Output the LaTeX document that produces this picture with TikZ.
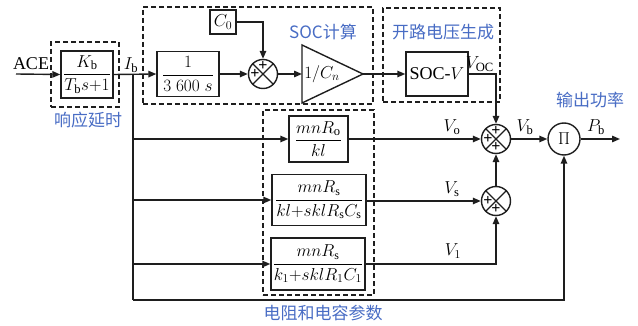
\documentclass[tikz,border=0pt]{standalone}
\usepackage{fontspec}
\setmainfont{Liberation Serif}
\newfontfamily\cjk{Noto Sans CJK SC}
\usetikzlibrary{arrows.meta,calc}
\definecolor{cblue}{RGB}{72,108,196}
\definecolor{ink}{RGB}{30,30,30}
\begin{document}
\begin{tikzpicture}[x=1pt,y=-1pt,
  ln/.style={line width=1.4pt, draw=ink},
  con/.style={ln, -{Triangle[length=8pt,width=6.5pt]}},
  blk/.style={draw=ink, line width=1.4pt, inner sep=0pt, font=\fontsize{18}{20}\selectfont},
  grp/.style={draw=ink, line width=1.4pt, dash pattern=on 5pt off 3pt, inner sep=0pt},
  sumc/.style={draw=ink, circle, minimum size=29pt, inner sep=0pt, line width=1.4pt},
  pls/.style={inner sep=0pt, font=\bfseries\fontsize{16}{16}\selectfont},
  lbl/.style={inner sep=0pt, font=\fontsize{18}{20}\selectfont},
  clbl/.style={inner sep=0pt, text=cblue, font=\cjk\fontsize{17}{19}\selectfont}]
\useasboundingbox (0,0) rectangle (638,326);

% group boxes
\node[grp, minimum width=68pt, minimum height=65pt] (g1) at (85,74.5) {};
\node[grp, minimum width=230pt, minimum height=97pt] (g2) at (258,55.5) {};
\node[grp, minimum width=117pt, minimum height=94pt] (g3) at (441.5,55) {};
\node[grp, minimum width=111pt, minimum height=185pt] (g4) at (318.5,202.5) {};

% group labels
\node[clbl] (l1) at (88,120) {响应延时};
\node[clbl] (l2) at (323,32) {SOC计算};
\node[clbl] (l3) at (443,32) {开路电压生成};
\node[clbl] (l4) at (323,313) {电阻和电容参数};
\node[clbl] (l5) at (590,100) {输出功率};

% blocks
\node[blk, minimum width=52pt, minimum height=47pt] (kb) at (87,74.5) {$\displaystyle\frac{K_{\mathrm{b}}}{T_{\mathrm{b}}s{+}1}$};
\node[blk, minimum width=62pt, minimum height=45pt] (int) at (188,74) {$\displaystyle\frac{1}{3\;600\;s}$};
\node[blk, minimum width=26pt, minimum height=24pt] (c0) at (223,22) {$C_0$};
\node[blk, minimum width=62pt, minimum height=44pt] (socv) at (437,74) {SOC-$V$};
\node[blk, minimum width=59pt, minimum height=46pt] (ro) at (318.5,139) {$\displaystyle\frac{mnR_{\mathrm{o}}}{kl}$};
\node[blk, minimum width=94pt, minimum height=51pt, font=\fontsize{17}{19}\selectfont] (rs) at (319,200) {$\displaystyle\frac{mnR_{\mathrm{s}}}{kl{+}sklR_{\mathrm{s}}C_{\mathrm{s}}}$};
\node[blk, minimum width=94pt, minimum height=52pt, font=\fontsize{17}{19}\selectfont] (r1) at (318,264) {$\displaystyle\frac{mnR_{\mathrm{s}}}{k_1{+}sklR_1C_1}$};

% triangle gain
\draw[ln] (302,45) -- (302,103) -- (363,74) -- cycle;
\coordinate (triL) at (302,74);
\coordinate (triR) at (363,74);
\node[lbl] (tri) at (322,74) {$1/C_n$};

% summing junctions
\node[sumc] (s1) at (263,74) {};
\node[sumc] (s2) at (496,139) {};
\node[sumc] (s3) at (496,201) {};
\foreach \s in {s1,s2,s3}{
  \draw[ln] (\s.north east) -- (\s.south west) (\s.north west) -- (\s.south east);
}
\node[pls] (s1t) at ($(s1)+(0,-8)$) {+};
\node[pls] (s1l) at ($(s1)+(-8,0)$) {+};
\node[pls] (s2t) at ($(s2)+(0,-8)$) {+};
\node[pls] (s2l) at ($(s2)+(-8,0)$) {+};
\node[pls] (s2b) at ($(s2)+(0,8)$) {+};
\node[pls] (s3l) at ($(s3)+(-8,0)$) {+};
\node[pls] (s3b) at ($(s3)+(0,8)$) {+};

% product
\node[sumc, minimum size=32pt, font=\fontsize{18}{20}\selectfont] (pi) at (564,139) {$\Pi$};

% signal labels
\node[lbl] (ace) at (31,64) {ACE};
\node[lbl] (ib) at (131,65) {$I_{\mathrm{b}}$};
\node[lbl, anchor=east] (voc) at (494,64) {$V_{\mathrm{OC}}$};
\node[lbl] (vo) at (452,127) {$V_{\mathrm{o}}$};
\node[lbl] (vs) at (452,189) {$V_{\mathrm{s}}$};
\node[lbl] (v1) at (453,251) {$V_{1}$};
\node[lbl] (vb) at (525,127) {$V_{\mathrm{b}}$};
\node[lbl] (pb) at (596,127) {$P_{\mathrm{b}}$};

% coordinates
\coordinate (in0) at (16,74);
\coordinate (br) at (133,74);
\coordinate (fb) at (133,300);
\coordinate (out) at (620,139);

% connectors
\draw[con] (in0) -- (kb.west);
\draw[con] (kb.east) -- (int.west);
\draw[ln] (br) -- (fb);
\draw[con] (fb) -| (pi.south);
\draw[con] (br |- ro.west) -- (ro.west);
\draw[con] (br |- rs.west) -- (rs.west);
\draw[con] (br |- r1.west) -- (r1.west);
\draw[con] (int.east) -- (s1.west);
\draw[con] (c0.east) -| (s1.north);
\draw[con] (s1.east) -- (triL);
\draw[con] (triR) -- (socv.west);
\draw[con] (socv.east) -| (s2.north);
\draw[con] (ro.east) -- (s2.west);
\draw[con] (rs.east |- s3.west) -- (s3.west);
\draw[con] (r1.east) -| (s3.south);
\draw[con] (s3.north) -- (s2.south);
\draw[con] (s2.east) -- (pi.west);
\draw[con] (pi.east) -- (out);
\end{tikzpicture}
\end{document}
